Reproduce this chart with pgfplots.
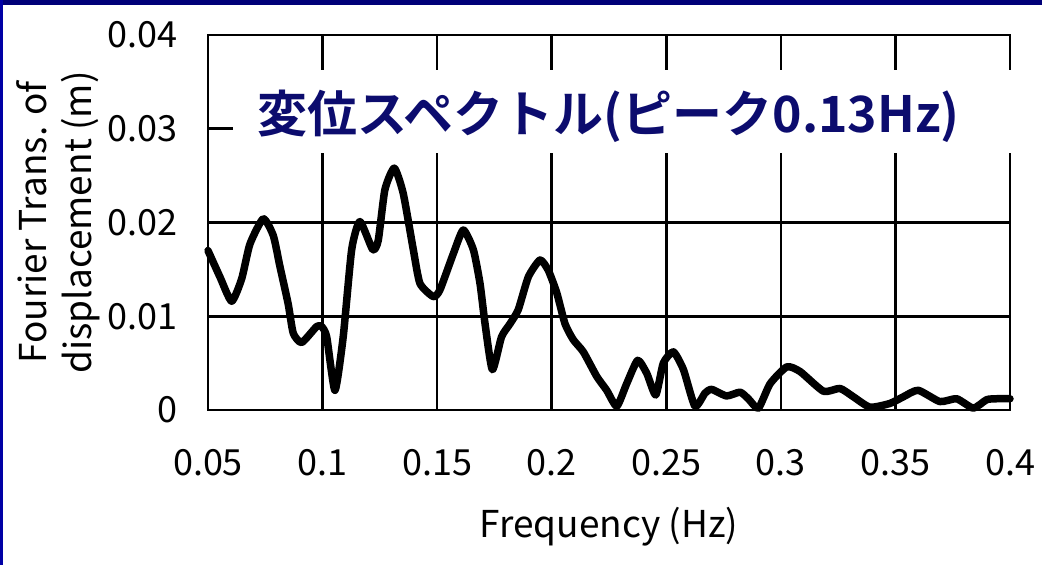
\documentclass[border=0pt]{standalone}
\usepackage{fontspec}
\setmainfont{Noto Sans CJK JP}[BoldFont={Noto Sans CJK JP Bold}]
\usepackage{pgfplots}
\pgfplotsset{compat=1.18}
\definecolor{titlenavy}{RGB}{12,12,110}
\definecolor{topnavy}{RGB}{0,0,120}
\definecolor{leftblue}{RGB}{0,0,165}
\begin{document}
\begin{tikzpicture}[x=1pt,y=1pt]
\useasboundingbox (0,0) rectangle (1042,565);
\fill[white] (0,0) rectangle (1042,565);
\begin{axis}[
  at={(208pt,155pt)}, anchor=south west,
  scale only axis, width=802pt, height=375pt,
  xmin=0.05, xmax=0.4, ymin=0, ymax=0.04,
  xtick={0.05,0.1,0.15,0.2,0.25,0.3,0.35,0.4},
  xticklabels={0.05,0.1,0.15,0.2,0.25,0.3,0.35,0.4},
  ytick={0,0.01,0.02,0.03,0.04},
  yticklabels={0,0.01,0.02,0.03,0.04},
  scaled y ticks=false,
  major tick length=0pt,
  grid=major,
  major grid style={black, line width=2.6pt},
  axis line style={black, line width=2.6pt},
  tick label style={font=\fontsize{36}{42}\selectfont, inner sep=0pt},
  xticklabel shift=39pt,
  yticklabel shift=30pt,
  xlabel={Frequency (Hz)},
  ylabel={Fourier Trans. of\\displacement (m)},
  label style={font=\fontsize{37}{45}\selectfont},
  xlabel style={at={(axis description cs:0.5,-0.341)}, anchor=base, inner sep=0pt},
  ylabel style={at={(axis description cs:-0.187,0.5)}, anchor=center, align=center, inner sep=0pt},
  clip=false,
]
\addplot[black, line width=7.5pt, smooth, tension=0.35, line join=round, line cap=round] coordinates {
(0.0500,0.0170) (0.0552,0.0142) (0.0603,0.0116) (0.0647,0.0140) (0.0683,0.0177)
(0.0741,0.0204) (0.0785,0.0186) (0.0814,0.0153) (0.0850,0.0113) (0.0872,0.0082)
(0.0909,0.0072) (0.0974,0.0089) (0.0996,0.0089) (0.1018,0.0078) (0.1054,0.0021)
(0.1090,0.0078) (0.1127,0.0171) (0.1163,0.0201) (0.1219,0.0171) (0.1243,0.0181)
(0.1272,0.0235) (0.1313,0.0258) (0.1352,0.0231) (0.1396,0.0171) (0.1425,0.0135)
(0.1483,0.0121) (0.1512,0.0128) (0.1571,0.0167) (0.1614,0.0192) (0.1658,0.0171)
(0.1687,0.0135) (0.1709,0.0092) (0.1741,0.0043) (0.1781,0.0078) (0.1818,0.0092)
(0.1854,0.0107) (0.1898,0.0142) (0.1949,0.0160) (0.1985,0.0149) (0.2022,0.0125)
(0.2058,0.0092) (0.2094,0.0075) (0.2138,0.0062) (0.2196,0.0036) (0.2240,0.0021)
(0.2284,0.0004) (0.2327,0.0028) (0.2375,0.0053) (0.2415,0.0039) (0.2454,0.0016)
(0.2487,0.0050) (0.2531,0.0062) (0.2575,0.0043) (0.2625,0.0004) (0.2669,0.0018)
(0.2698,0.0022) (0.2763,0.0015) (0.2822,0.0019) (0.2858,0.0012) (0.2902,0.0002)
(0.2953,0.0028) (0.3026,0.0046) (0.3084,0.0041) (0.3186,0.0020) (0.3258,0.0023)
(0.3317,0.0014) (0.3389,0.0003) (0.3476,0.0007) (0.3534,0.0014) (0.3599,0.0021)
(0.3694,0.0009) (0.3767,0.0012) (0.3840,0.0002) (0.3898,0.0011) (0.3942,0.0012)
(0.4000,0.0012)
};
\end{axis}
\fill[white] (233,412) rectangle (1022,495);
\node[anchor=base, inner sep=0pt, text=titlenavy, font=\fontsize{50}{60}\selectfont\bfseries] at (608.5,432) {変位スペクトル(ピーク0.13Hz)};
\fill[topnavy] (0,559.5) rectangle (1042,565);
\fill[leftblue] (0,0) rectangle (3,565);
\end{tikzpicture}
\end{document}
